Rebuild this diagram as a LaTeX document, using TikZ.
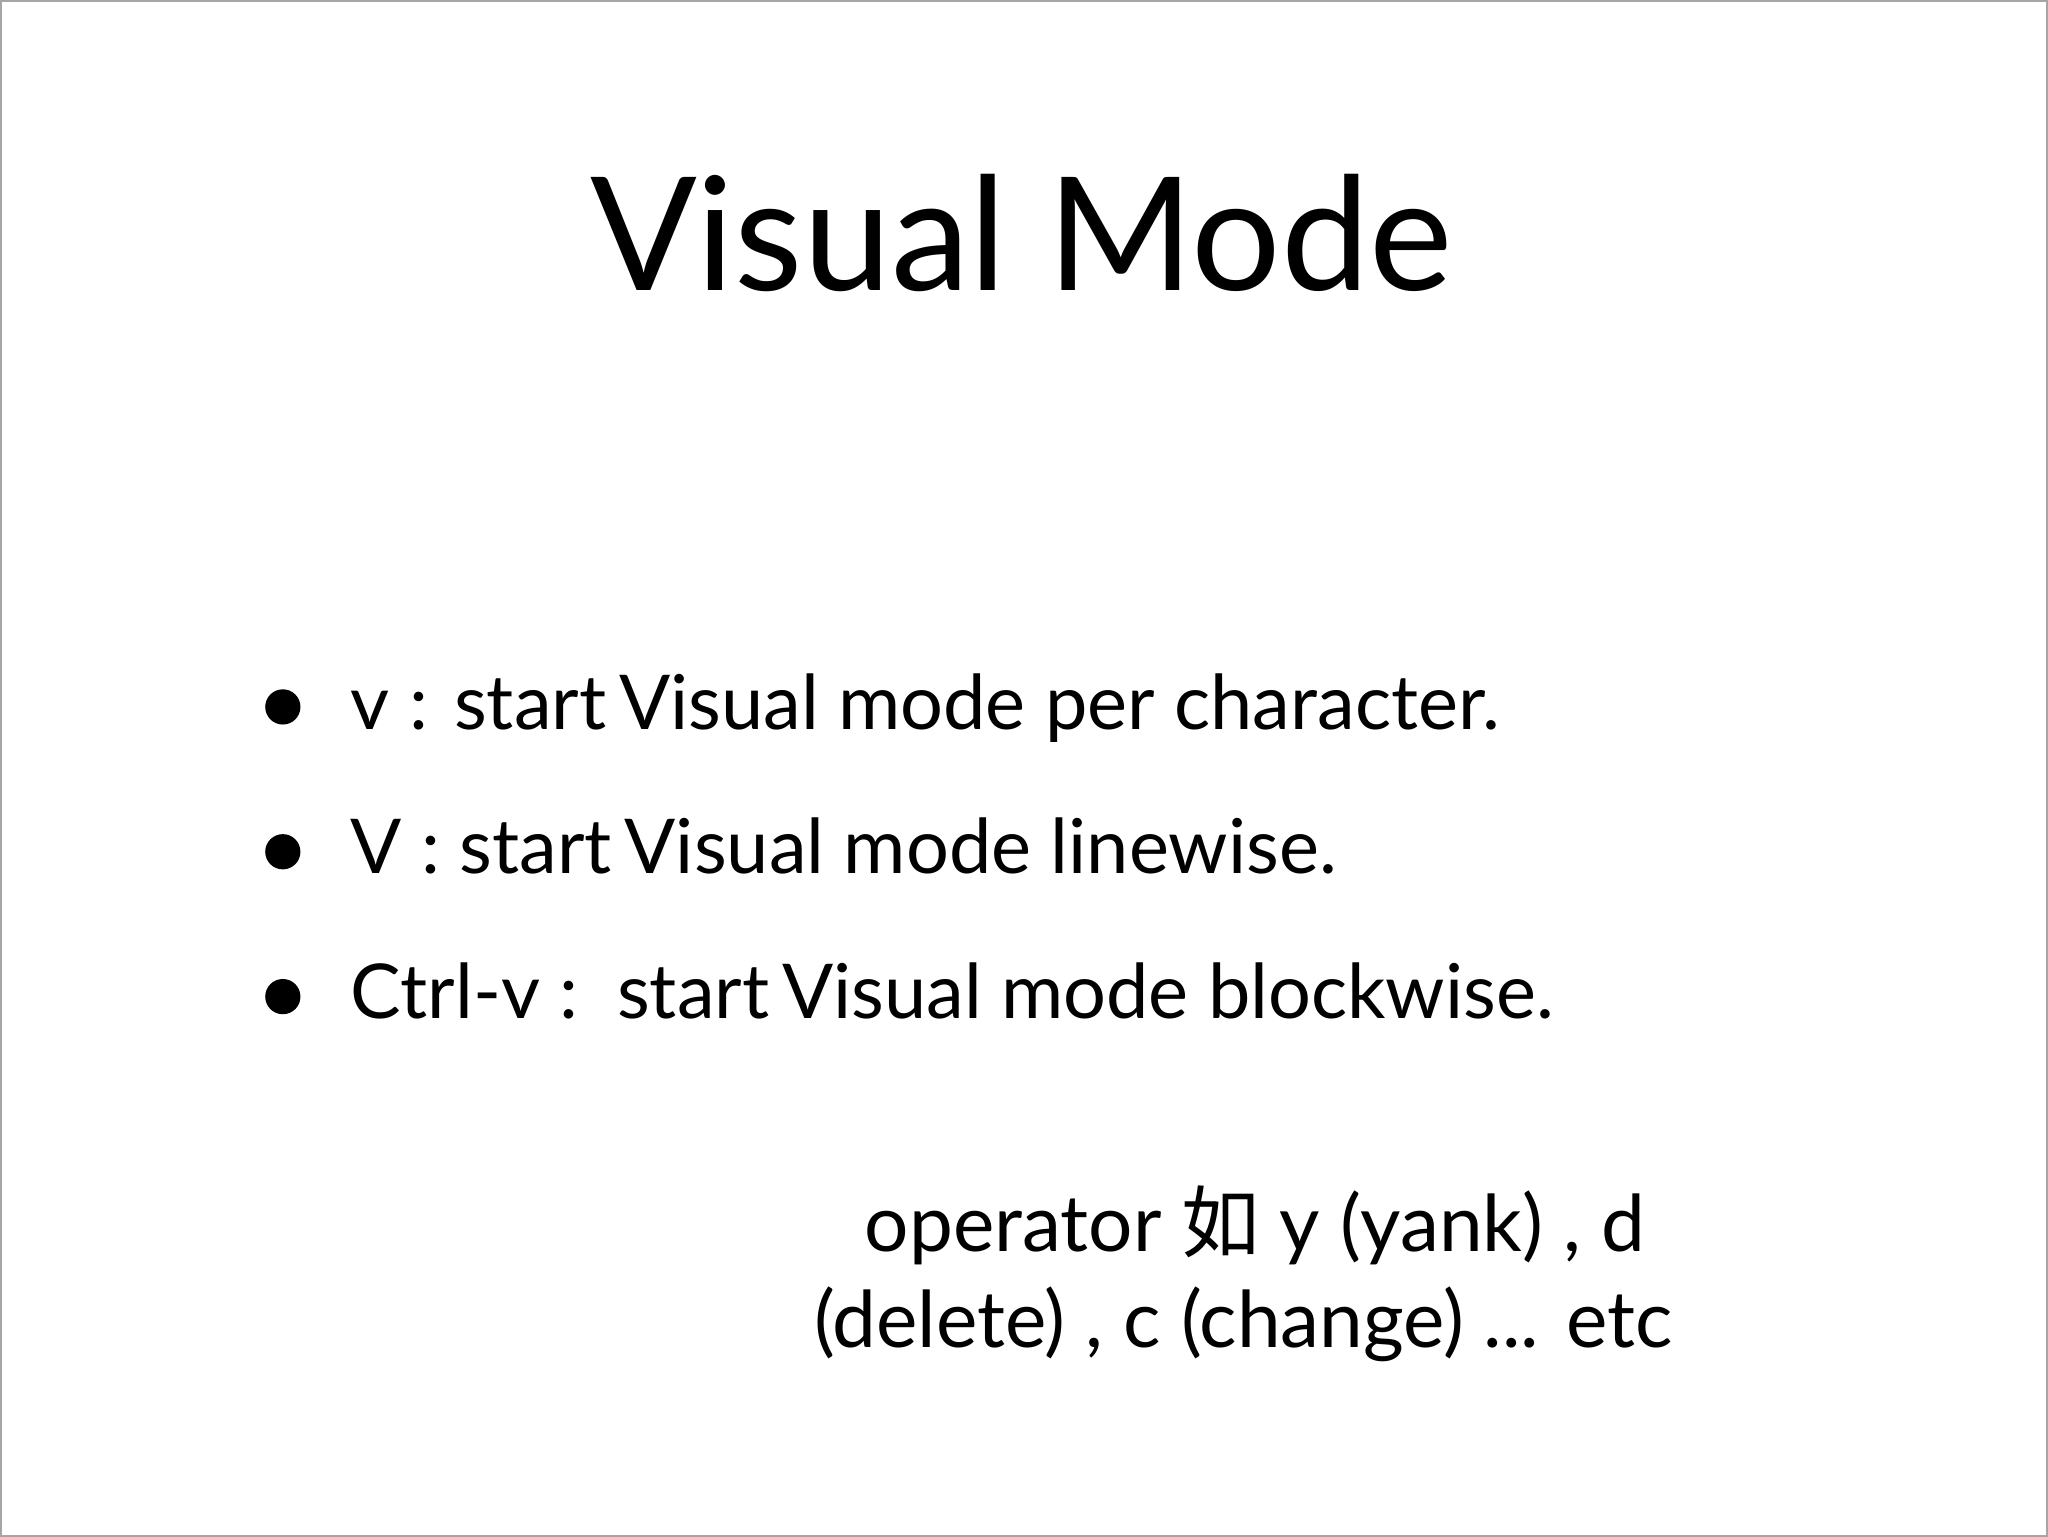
\documentclass[tikz,border=0pt]{standalone}
\usepackage{fontspec}
\setmainfont{Lato}
\newfontfamily\cjk{Noto Sans CJK SC}
\begin{document}
\begin{tikzpicture}[x=1pt,y=-1pt,
  txt/.style={anchor=base west,inner sep=0pt,font=\fontsize{58}{68}\selectfont},
  dot/.style={circle,fill=black,inner sep=0pt,minimum size=27pt}]
\draw[gray!70,line width=1.5pt,fill=white] (0,0) rectangle (1568,1176);
\node[anchor=base,inner sep=0pt,font=\fontsize{121}{135}\selectfont] (title) at (782,222) {Visual Mode};
\node[dot] (b1) at (216,541) {};
\node[txt] (t1) at (268,558) {v : start\,Visual mode per character.};
\node[dot] (b2) at (216,652) {};
\node[txt] (t2) at (268,669) {V : start\,Visual mode linewise.};
\node[dot] (b3) at (216,763) {};
\node[txt] (t3) at (268,780) {Ctrl-v :\ \ start\,Visual mode blockwise.};
\node[anchor=base,inner sep=0pt,font=\fontsize{60}{70}\selectfont] (o1) at (961,958) {operator {\cjk 如} y (yank) , d};
\node[anchor=base,inner sep=0pt,font=\fontsize{60}{70}\selectfont] (o2) at (952,1032) {(delete) , c (change) ... etc};
\end{tikzpicture}
\end{document}
